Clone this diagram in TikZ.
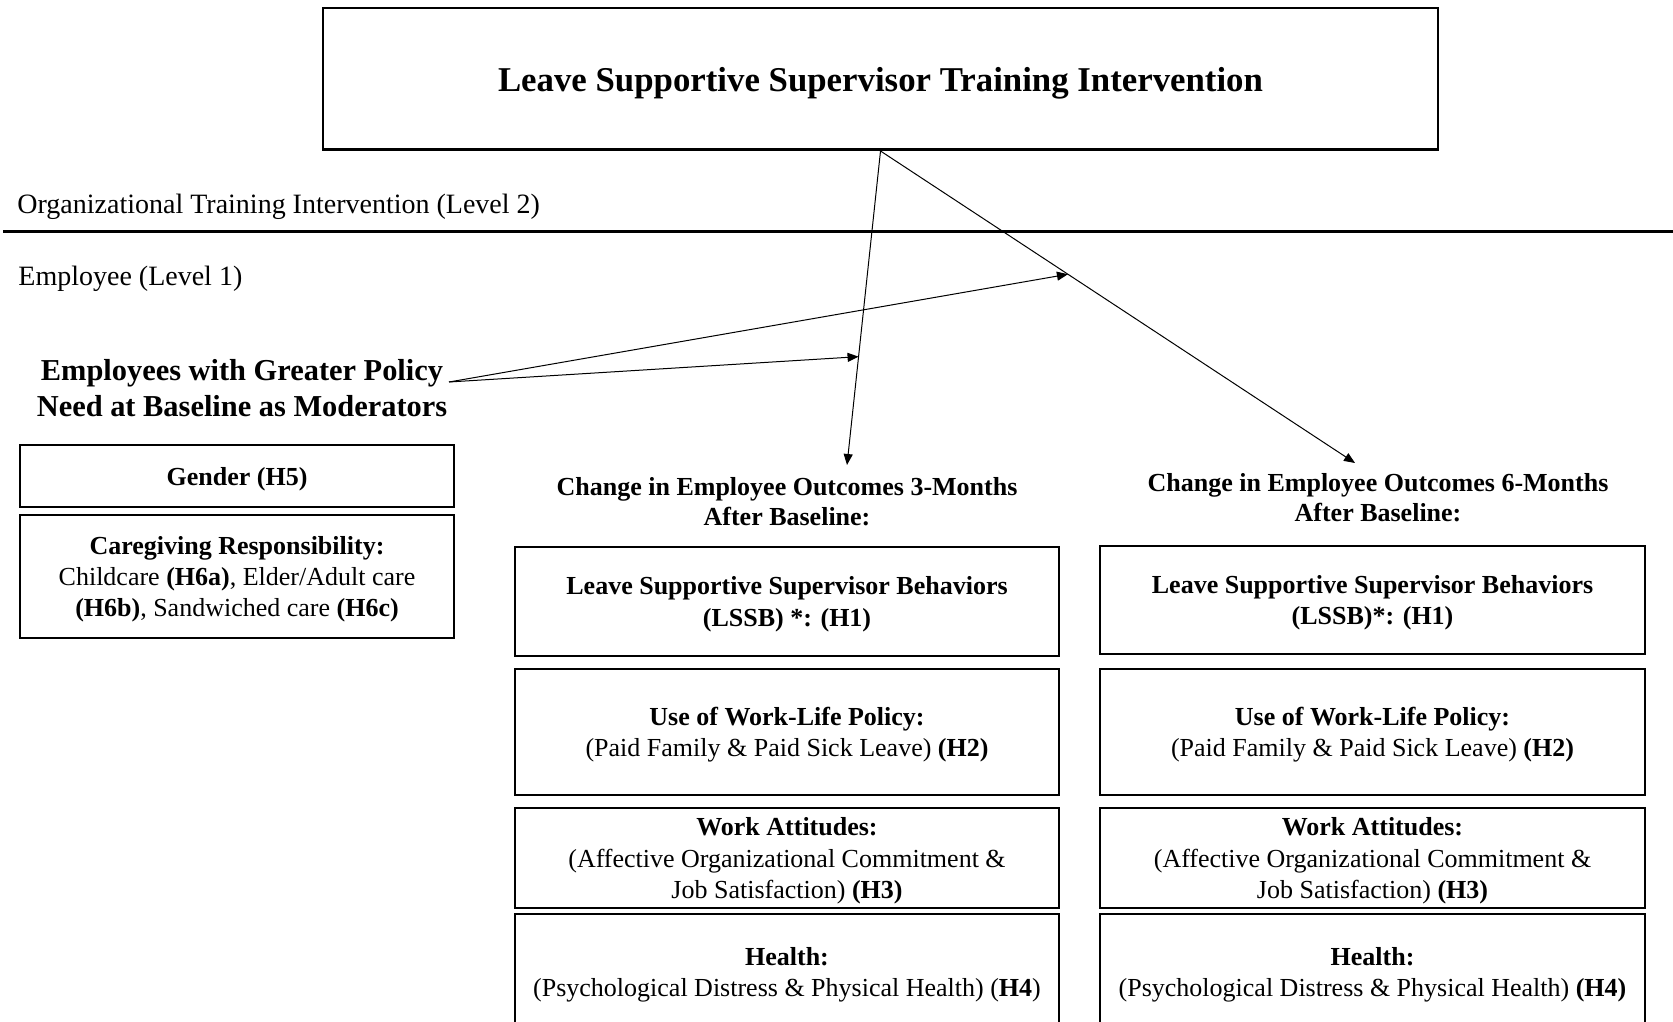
\documentclass[tikz,border=0pt]{standalone}
\usepackage{fontspec}
\setmainfont{Liberation Serif}
\usetikzlibrary{arrows.meta}

\begin{document}
\begin{tikzpicture}[x=0.5pt,y=-0.5pt]
\tikzstyle{box}=[draw=black, line width=1.25pt, align=center, inner sep=0pt, text depth=-0.4pt, font=\fontsize{13}{15.6}\selectfont]
\tikzstyle{head}=[align=center, inner sep=0pt, font=\bfseries\fontsize{13}{15}\selectfont]
\tikzstyle{lvl}=[anchor=west, inner sep=0pt, font=\fontsize{14}{16}\selectfont]
\tikzstyle{edge}=[draw, line width=0.5pt, -{Triangle[length=5.5pt,width=4.5pt]}]

\useasboundingbox (0,0) rectangle (1673,1021);
\clip (0,0) rectangle (1673,1021);

% level 2
\node[box, minimum width=557.5pt, minimum height=70.75pt, text depth=-1.8pt, font=\bfseries\fontsize{17.4}{20}\selectfont] (top) at (880.5,79) {Leave Supportive Supervisor Training Intervention};
\node[lvl] (lvltwo) at (17,207) {Organizational Training Intervention (Level 2)};
\draw[line width=1.4pt] (3,231.5) -- (1673,231.5);
\node[lvl] (lvlone) at (18,279) {Employee (Level 1)};

% moderators
\node[head, font=\bfseries\fontsize{15.2}{18.2}\selectfont] (mod) at (242,388) {Employees with Greater Policy\\Need at Baseline as Moderators};
\node[box, minimum width=217pt, minimum height=31pt] (gender) at (237,476) {\textbf{Gender (H5)}};
\node[box, minimum width=217pt, minimum height=61.5pt] (care) at (237,576.5) {\textbf{Caregiving Responsibility:}\\Childcare \textbf{(H6a)}, Elder/Adult care\\\textbf{(H6b)}, Sandwiched care \textbf{(H6c)}};

% outcomes 3 months
\node[head] (headthree) at (787,502) {Change in Employee Outcomes 3-Months\\After Baseline:};
\node[box, minimum width=272pt, minimum height=54.5pt] (lssbthree) at (787,601.5) {\textbf{Leave Supportive Supervisor Behaviors}\\\textbf{(LSSB) *: (H1)}};
\node[box, minimum width=272pt, minimum height=63pt] (usethree) at (787,732) {\textbf{Use of Work-Life Policy:}\\(Paid Family \& Paid Sick Leave) \textbf{(H2)}};
\node[box, minimum width=272pt, minimum height=50pt] (attthree) at (787,858) {\textbf{Work Attitudes:}\\(Affective Organizational Commitment \&\\Job Satisfaction) \textbf{(H3)}};
\node[box, minimum width=272pt, minimum height=58pt] (healththree) at (787,972) {\textbf{Health:}\\(Psychological Distress \& Physical Health) (\textbf{H4})};

% outcomes 6 months
\node[head] (headsix) at (1378,498) {Change in Employee Outcomes 6-Months\\After Baseline:};
\node[box, minimum width=272.5pt, minimum height=54pt] (lssbsix) at (1372.5,600) {\textbf{Leave Supportive Supervisor Behaviors}\\\textbf{(LSSB)*: (H1)}};
\node[box, minimum width=272.5pt, minimum height=63pt] (usesix) at (1372.5,732) {\textbf{Use of Work-Life Policy:}\\(Paid Family \& Paid Sick Leave) \textbf{(H2)}};
\node[box, minimum width=272.5pt, minimum height=50pt] (attsix) at (1372.5,858) {\textbf{Work Attitudes:}\\(Affective Organizational Commitment \&\\Job Satisfaction) \textbf{(H3)}};
\node[box, minimum width=272.5pt, minimum height=58pt] (healthsix) at (1372.5,972) {\textbf{Health:}\\(Psychological Distress \& Physical Health) \textbf{(H4)}};

% arrows
\coordinate (tipthree) at (847,465);
\coordinate (tipsix) at (1355,463);
\coordinate (modout) at (449,382);
\path (top.south) -- (tipthree) coordinate[pos=0.655] (onthree);
\path (top.south) -- (tipsix) coordinate[pos=0.395] (onsix);

\foreach \source/ \dest in {top.south/tipthree, top.south/tipsix, modout/onthree, modout/onsix}
\path[edge] (\source) -- (\dest);
\end{tikzpicture}
\end{document}
